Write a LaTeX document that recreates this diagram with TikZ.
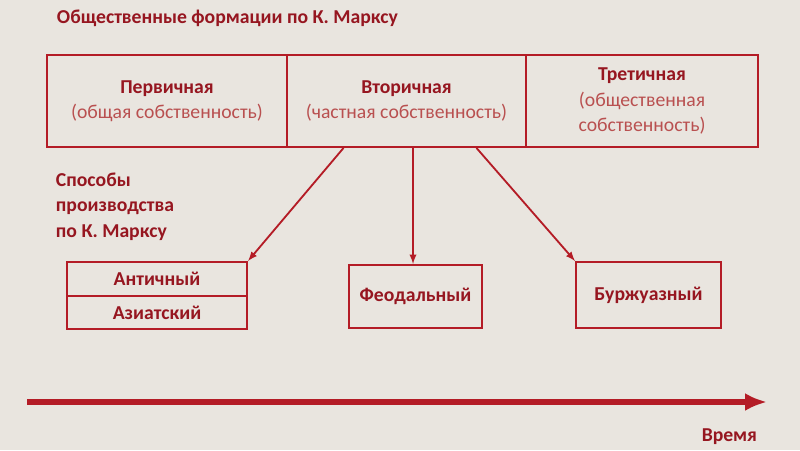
\documentclass[tikz,border=0pt]{standalone}
\usepackage{fontspec}
\setmainfont{Carlito}
\usepackage{tikz}
\usetikzlibrary{calc,arrows.meta}
\definecolor{bgbeige}{RGB}{233,229,223}
\definecolor{framered}{RGB}{180,28,38}
\definecolor{textred}{RGB}{150,22,32}
\definecolor{softred}{RGB}{185,80,80}

\begin{document}
\begin{tikzpicture}[
  x=0.025cm, y=-0.025cm,
  fbox/.style={draw=framered, line width=1.4pt, inner sep=0pt,
    minimum height=92*0.025cm, align=center, font=\fontsize{14}{18}\selectfont},
  mbox/.style={draw=framered, line width=1.4pt, inner sep=0pt,
    text=textred, font=\fontsize{14}{18}\selectfont\bfseries},
  head/.style={text=textred, font=\fontsize{14}{18}\selectfont\bfseries},
  arr/.style={-latex, line width=1.3pt, framered},
  timearr/.style={-{Latex[length=22*0.025cm, width=18*0.025cm]}, line width=4pt, framered}
]

\fill[bgbeige] (0,0) rectangle (800,450);

\node[head, anchor=west] (title) at (52,18) {Общественные формации по К. Марксу};

% formations
\node[fbox, minimum width=240*0.025cm] (perv) at (167,101)
  {\textcolor{textred}{\bfseries Первичная}\\ \textcolor{softred}{(общая собственность)}};
\node[fbox, minimum width=239*0.025cm] (vtor) at (406.5,101)
  {\textcolor{textred}{\bfseries Вторичная}\\ \textcolor{softred}{(частная собственность)}};
\node[fbox, minimum width=232*0.025cm] (tret) at (642,101)
  {\textcolor{textred}{\bfseries Третичная}\\ \textcolor{softred}{(общественная}\\ \textcolor{softred}{собственность)}};

\node[head, anchor=north west, align=left] (sposob) at (51,168)
  {Способы\\ производства\\ по К. Марксу};

% modes of production
\node[mbox, minimum width=180*0.025cm, minimum height=34*0.025cm] (antic) at (157,279) {Античный};
\node[mbox, minimum width=180*0.025cm, minimum height=33*0.025cm] (aziat) at (157,312.5) {Азиатский};
\node[mbox, minimum width=133*0.025cm, minimum height=63*0.025cm] (feod) at (415.5,296.5) {Феодальный};
\node[mbox, minimum width=145*0.025cm, minimum height=66*0.025cm] (burzh) at (648.5,295) {Буржуазный};

\coordinate (s1) at ($(vtor.south)+(-63,0)$);
\coordinate (s2) at ($(vtor.south)+(6.5,0)$);
\coordinate (s3) at ($(vtor.south)+(70,0)$);
\draw[arr] (s1) -- (antic.north east);
\draw[arr] (s2) -- (s2 |- feod.north);
\draw[arr] (s3) -- (burzh.north west);

% time axis
\coordinate (t0) at (27,402);
\coordinate (t1) at (767,402);
\draw[timearr] (t0) -- (t1);
\node[head, anchor=east] (vremya) at (762,437) {Время};

\end{tikzpicture}
\end{document}
